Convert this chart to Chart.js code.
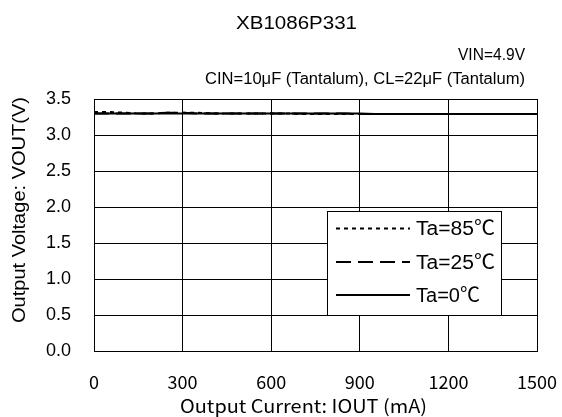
<!DOCTYPE html>
<html>
<head>
<meta charset="utf-8">
<script src="https://cdn.jsdelivr.net/npm/chart.js@4.4.0/dist/chart.umd.min.js"></script>
<style>
html,body{margin:0;padding:0;background:#fff;}
#wrap{width:562px;height:417px;position:relative;}
</style>
</head>
<body>
<div id="wrap"><canvas id="c" width="562" height="417"></canvas></div>
<script>
const chartTitle = "XB1086P331";
const subtitle1 = "VIN=4.9V";
const subtitle2 = "CIN=10μF (Tantalum), CL=22μF (Tantalum)";
const xTitle = "Output Current: IOUT (mA)";
const yTitle = "Output Voltage: VOUT(V)";
const xTicks = [0, 300, 600, 900, 1200, 1500];
const yTicks = [0.0, 0.5, 1.0, 1.5, 2.0, 2.5, 3.0, 3.5];
const seriesNames = ["Ta=85℃", "Ta=25℃", "Ta=0℃"];
const currents = [0,50,100,150,200,250,300,350,400,450,500,550,600,650,700,750,800,850,900,950,1000,1050,1100,1150,1200,1250,1300,1350,1400,1450,1500];
const vout85 = [3.32,3.32,3.31,3.30,3.30,3.31,3.31,3.31,3.30,3.30,3.30,3.30,3.30,3.30,3.29,3.29,3.29,3.29,3.29,3.29,3.29,3.29,3.29,3.29,3.29,3.29,3.29,3.29,3.29,3.29,3.29];
const vout25 = [3.30,3.30,3.30,3.30,3.30,3.31,3.31,3.30,3.30,3.30,3.30,3.30,3.30,3.30,3.30,3.30,3.30,3.30,3.29,3.29,3.29,3.29,3.29,3.29,3.29,3.29,3.29,3.29,3.29,3.29,3.29];
const vout0  = [3.30,3.30,3.30,3.30,3.30,3.30,3.30,3.30,3.30,3.30,3.30,3.30,3.30,3.30,3.30,3.30,3.30,3.30,3.30,3.29,3.29,3.29,3.29,3.29,3.29,3.29,3.29,3.29,3.29,3.29,3.29];
const dashes = [[4,4],[15,7],[]];

const SANS = '"Liberation Sans", Arial, "Noto Sans CJK JP", sans-serif';
const JP = '"Noto Sans CJK JP", "Liberation Sans", sans-serif';

function fitText(ctx, text, x, y, w, align, font, rot) {
  ctx.save();
  ctx.font = font;
  ctx.fillStyle = '#000';
  ctx.textBaseline = 'middle';
  ctx.textAlign = 'left';
  const m = ctx.measureText(text).width;
  const s = w / m;
  ctx.translate(x, y);
  if (rot) ctx.rotate(rot);
  ctx.scale(s, 1);
  let x0 = 0;
  if (align === 'center') x0 = -m / 2;
  else if (align === 'right') x0 = -m;
  ctx.fillText(text, x0, 0);
  ctx.restore();
}

const textPlugin = {
  id: 'texts',
  afterDraw(chart) {
    const ctx = chart.ctx;
    fitText(ctx, chartTitle, 296.5, 24, 121, 'center', '17.5px ' + SANS);
    fitText(ctx, subtitle1, 525, 56, 67, 'right', '16px ' + SANS);
    fitText(ctx, subtitle2, 525, 79.5, 320, 'right', '16px ' + SANS);
    fitText(ctx, xTitle, 303.5, 406, 247, 'center', '18px ' + JP);
    fitText(ctx, yTitle, 20, 210, 226, 'center', '19px ' + SANS, -Math.PI / 2);
    // legend
    const bx = 327, by = 211, bw = 174, bh = 104;
    ctx.save();
    ctx.fillStyle = '#fff';
    ctx.fillRect(bx, by, bw, bh);
    ctx.strokeStyle = '#000';
    ctx.lineWidth = 1;
    ctx.strokeRect(bx + 0.5, by + 0.5, bw, bh);
    const ys = [228.5, 262, 295];
    chart.data.datasets.forEach((ds, i) => {
      ctx.beginPath();
      ctx.setLineDash(ds.borderDash || []);
      ctx.lineWidth = 2;
      ctx.strokeStyle = '#000';
      ctx.moveTo(336, ys[i]);
      ctx.lineTo(410, ys[i]);
      ctx.stroke();
    });
    ctx.setLineDash([]);
    ctx.restore();
    const tw = [79, 79, 64];
    chart.data.datasets.forEach((ds, i) => {
      fitText(ctx, ds.label, 416, ys[i] + 1, tw[i], 'left', '20px ' + SANS);
    });
  }
};

new Chart(document.getElementById('c'), {
  type: 'line',
  data: {
    datasets: [
      { label: seriesNames[0], data: currents.map((c, i) => ({x: c, y: vout85[i]})), borderDash: dashes[0] },
      { label: seriesNames[1], data: currents.map((c, i) => ({x: c, y: vout25[i]})), borderDash: dashes[1] },
      { label: seriesNames[2], data: currents.map((c, i) => ({x: c, y: vout0[i]})), borderDash: dashes[2] }
    ].map(d => Object.assign(d, { borderColor: '#000', borderWidth: 2, pointRadius: 0, tension: 0, fill: false }))
  },
  options: {
    responsive: false,
    animation: false,
    devicePixelRatio: 1,
    layout: { padding: { left: 0, right: 25, top: 99, bottom: 0 } },
    plugins: { legend: { display: false }, title: { display: false }, tooltip: { enabled: false } },
    scales: {
      x: {
        type: 'linear', min: 0, max: 1500,
        afterBuildTicks(s) { s.ticks = xTicks.map(v => ({ value: v })); },
        afterFit(s) { s.height = 66; s.paddingLeft = 0; s.paddingRight = 0; },
        grid: { color: '#000', lineWidth: 1, drawTicks: false },
        border: { display: true, color: '#000', width: 1 },
        ticks: { color: '#000', padding: 20, maxRotation: 0, font: { family: JP, size: 18 }, callback: v => String(v) }
      },
      y: {
        type: 'linear', min: 0, max: 3.5,
        afterBuildTicks(s) { s.ticks = yTicks.map(v => ({ value: v })); },
        afterFit(s) { s.width = 94; s.paddingTop = 0; s.paddingBottom = 0; },
        grid: { color: '#000', lineWidth: 1, drawTicks: false },
        border: { display: true, color: '#000', width: 1 },
        ticks: { color: '#000', padding: 23, font: { family: SANS, size: 18 }, callback: v => Number(v).toFixed(1) }
      }
    }
  },
  plugins: [textPlugin]
});
</script>
</body>
</html>
